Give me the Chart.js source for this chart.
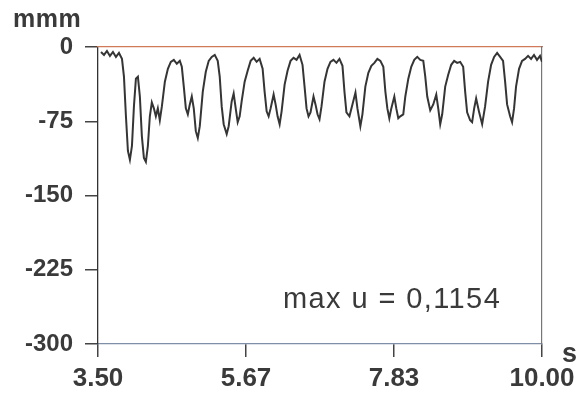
<!DOCTYPE html>
<html>
<head>
<meta charset="utf-8">
<script src="https://cdn.jsdelivr.net/npm/chart.js@4"></script>
<style>
  html, body { margin: 0; padding: 0; background: #fff; }
  #wrap { width: 582px; height: 401px; }
</style>
</head>
<body>
<div id="wrap"><canvas id="chart" width="582" height="401"></canvas></div>
<script>
// Time (s) and displacement readings taken off the trace
const times = [
  3.544, 3.588, 3.631, 3.675, 3.719, 3.763, 3.807, 3.851, 3.880, 3.909,
  3.938, 3.967, 3.997, 4.026, 4.055, 4.084, 4.113, 4.142, 4.172, 4.201,
  4.230, 4.259, 4.288, 4.318, 4.347, 4.376, 4.405, 4.435, 4.479, 4.523,
  4.566, 4.610, 4.654, 4.698, 4.727, 4.756, 4.786, 4.815, 4.844, 4.873,
  4.902, 4.932, 4.961, 4.990, 5.034, 5.078, 5.121, 5.165, 5.209, 5.253,
  5.282, 5.311, 5.340, 5.384, 5.413, 5.457, 5.486, 5.516, 5.545, 5.574,
  5.603, 5.647, 5.691, 5.735, 5.779, 5.822, 5.866, 5.910, 5.939, 5.969,
  5.998, 6.027, 6.071, 6.100, 6.129, 6.159, 6.188, 6.232, 6.275, 6.319,
  6.363, 6.407, 6.451, 6.494, 6.524, 6.553, 6.582, 6.611, 6.655, 6.684,
  6.714, 6.743, 6.772, 6.816, 6.860, 6.903, 6.947, 6.991, 7.035, 7.079,
  7.108, 7.137, 7.181, 7.225, 7.269, 7.298, 7.341, 7.371, 7.414, 7.458,
  7.502, 7.546, 7.590, 7.634, 7.677, 7.707, 7.736, 7.765, 7.794, 7.838,
  7.867, 7.896, 7.926, 7.969, 7.999, 8.043, 8.086, 8.130, 8.174, 8.218,
  8.262, 8.291, 8.320, 8.364, 8.408, 8.452, 8.481, 8.510, 8.539, 8.583,
  8.627, 8.671, 8.714, 8.758, 8.802, 8.846, 8.875, 8.904, 8.948, 8.977,
  9.007, 9.036, 9.080, 9.124, 9.167, 9.211, 9.255, 9.299, 9.343, 9.387,
  9.430, 9.460, 9.489, 9.533, 9.562, 9.591, 9.620, 9.664, 9.708, 9.752,
  9.796, 9.840, 9.883, 9.927, 9.971, 10.000
];
const displacement = [
  -5, -8, -4, -9, -5, -10, -6, -12, -30, -70,
  -105, -114, -100, -60, -32, -30, -50, -90, -112, -116,
  -100, -70, -56, -62, -70, -62, -74, -60, -35, -22,
  -15, -13, -17, -14, -20, -40, -62, -68, -58, -50,
  -62, -85, -92, -80, -45, -25, -14, -10, -8, -14,
  -30, -60, -78, -88, -80, -55, -47, -62, -76, -70,
  -55, -35, -24, -14, -11, -15, -12, -22, -45, -65,
  -70, -62, -48, -58, -70, -78, -65, -38, -24, -14,
  -11, -13, -8, -18, -40, -62, -70, -66, -50, -58,
  -68, -73, -60, -35, -22, -15, -13, -16, -12, -19,
  -45, -66, -70, -58, -46, -62, -80, -68, -40, -26,
  -19, -16, -12, -14, -20, -45, -62, -72, -62, -50,
  -62, -72, -70, -68, -50, -32, -20, -13, -10, -13,
  -14, -30, -50, -64, -58, -48, -62, -78, -68, -40,
  -28, -18, -14, -16, -15, -20, -45, -66, -74, -76,
  -62, -52, -66, -78, -60, -35, -18, -10, -6, -10,
  -14, -35, -58, -70, -76, -62, -40, -22, -14, -12,
  -9, -12, -8, -13, -9, -15
];
const xTicks = [3.5, 5.6667, 7.8333, 10.0];
const yTicks = [0, -75, -150, -225, -300];

const textColor = '#3a3a3a';
const fontFamily = 'Liberation Sans, Arial, sans-serif';

// extra texts: unit labels and annotation
const textPlugin = {
  id: 'extraText',
  afterDraw(chart) {
    const ctx = chart.ctx;
    ctx.save();
    ctx.fillStyle = textColor;
    ctx.textBaseline = 'alphabetic';
    ctx.textAlign = 'left';
    ctx.font = 'bold 25px ' + fontFamily;
    ctx.letterSpacing = '0.5px';
    ctx.fillText('mmm', 13, 27);
    ctx.letterSpacing = '0px';
    ctx.font = 'bold 27px ' + fontFamily;
    ctx.fillText('s', 562, 362);
    ctx.font = '29px ' + fontFamily;
    ctx.letterSpacing = '1.4px';
    ctx.fillText('max u = 0,1154', 283, 308);
    ctx.restore();
  }
};

// frame-only axes (top and right edges of the plot)
const edgeAxis = (position, color, isX) => ({
  type: 'linear',
  position: position,
  min: isX ? 3.5 : -300,
  max: isX ? 10 : 0,
  afterFit(scale) { if (isX) scale.height = 0; else scale.width = 0; },
  ticks: { display: false },
  grid: { display: false },
  border: { display: true, color: color, width: 1.2 }
});

new Chart(document.getElementById('chart'), {
  type: 'line',
  data: {
    datasets: [{
      data: times.map((t, i) => ({ x: t, y: displacement[i] })),
      borderColor: '#353535',
      borderWidth: 2,
      pointRadius: 0,
      tension: 0
    }]
  },
  options: {
    responsive: false,
    animation: false,
    devicePixelRatio: 1,
    layout: { padding: { top: 47, right: 40, left: 0, bottom: 0 } },
    plugins: { legend: { display: false }, tooltip: { enabled: false } },
    scales: {
      x: {
        type: 'linear',
        position: 'bottom',
        min: 3.5,
        max: 10,
        afterFit(scale) { scale.height = 57; },
        afterBuildTicks(scale) { scale.ticks = xTicks.map(v => ({ value: v })); },
        ticks: {
          color: textColor,
          font: { family: fontFamily, size: 26, weight: 'bold' },
          padding: 6,
          maxRotation: 0,
          autoSkip: false,
          callback: v => v.toFixed(2)
        },
        grid: {
          drawOnChartArea: false,
          color: '#444',
          tickColor: '#444',
          tickWidth: 1.5,
          tickLength: 13,
          lineWidth: 1.5
        },
        border: { display: true, color: '#7f8fa8', width: 1.2 }
      },
      y: {
        position: 'left',
        min: -300,
        max: 0,
        afterFit(scale) { scale.width = 98; },
        afterBuildTicks(scale) { scale.ticks = yTicks.map(v => ({ value: v })); },
        ticks: {
          color: textColor,
          font: { family: fontFamily, size: 24, weight: 'bold' },
          padding: 12
        },
        grid: {
          drawOnChartArea: false,
          color: '#444',
          tickColor: '#444',
          tickWidth: 1.5,
          tickLength: 13,
          lineWidth: 1.5
        },
        border: { display: true, color: '#333', width: 1.3 }
      },
      xTop: edgeAxis('top', '#d07a5a', true),
      yRight: edgeAxis('right', '#777', false)
    }
  },
  plugins: [textPlugin]
});
</script>
</body>
</html>
